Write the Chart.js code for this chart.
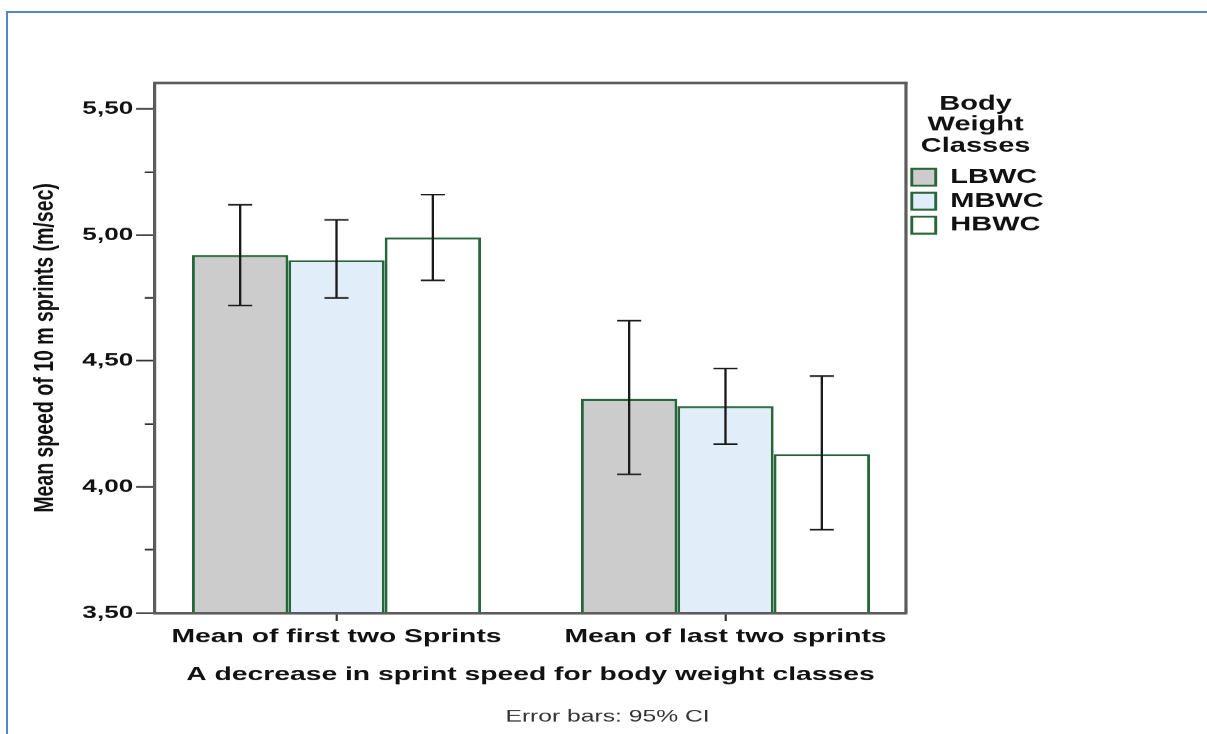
<!DOCTYPE html>
<html>
<head>
<meta charset="utf-8">
<script src="https://cdn.jsdelivr.net/npm/chart.js@4/dist/chart.umd.min.js"></script>
<style>
  html, body { margin: 0; padding: 0; background: #fff; overflow: hidden; width: 1207px; height: 734px; }
  #c { position: absolute; left: 0; top: 0; }
  #frame { position: absolute; left: 6px; top: 11px; width: 1400px; height: 900px;
           border-left: 2px solid #5585c4; border-top: 2px solid #5585c4; pointer-events: none; }
</style>
</head>
<body>
<!-- drawn on an 832px-wide canvas and shown 1207px wide (horizontally stretched output) -->
<canvas id="c" width="832" height="734" style="width:1207px;height:734px"></canvas>
<div id="frame"></div>
<script>
// Sprint speed (m/sec), means and 95% CI bounds per body weight class
const categories = ['Mean of first two Sprints', 'Mean of last two sprints'];
const seriesNames = ['LBWC', 'MBWC', 'HBWC'];

const lbwcMeans = [4.92, 4.35];
const mbwcMeans = [4.90, 4.32];
const hbwcMeans = [4.99, 4.13];

const lbwcLower = [4.72, 4.05];
const lbwcUpper = [5.12, 4.66];
const mbwcLower = [4.75, 4.17];
const mbwcUpper = [5.06, 4.47];
const hbwcLower = [4.82, 3.83];
const hbwcUpper = [5.16, 4.44];

const yTickValues = [3.50, 3.75, 4.00, 4.25, 4.50, 4.75, 5.00, 5.25, 5.50];
const yTickLabels = ['3,50', '', '4,00', '', '4,50', '', '5,00', '', '5,50'];

const means = [lbwcMeans, mbwcMeans, hbwcMeans];
const lowers = [lbwcLower, mbwcLower, hbwcLower];
const uppers = [lbwcUpper, mbwcUpper, hbwcUpper];

const FAMILY = "'Liberation Sans', Arial, sans-serif";
const fills = ['#cccccc', '#e1edf9', '#ffffff'];
const edge = '#26663a';
const axisGrey = '#5c5c5c';

// 95% CI whiskers on every bar
const ciWhiskers = {
  id: 'ciWhiskers',
  afterDatasetsDraw(chart) {
    const { ctx } = chart;
    const y = chart.scales.y;
    ctx.save();
    ctx.strokeStyle = '#1a1a1a';
    ctx.lineWidth = 1.6;
    chart.data.datasets.forEach((ds, s) => {
      chart.getDatasetMeta(s).data.forEach((bar, i) => {
        const x = bar.x;
        const yl = y.getPixelForValue(lowers[s][i]);
        const yh = y.getPixelForValue(uppers[s][i]);
        const w = 8.3;
        ctx.beginPath();
        ctx.moveTo(x, yl); ctx.lineTo(x, yh);
        ctx.moveTo(x - w, yl); ctx.lineTo(x + w, yl);
        ctx.moveTo(x - w, yh); ctx.lineTo(x + w, yh);
        ctx.stroke();
      });
    });
    ctx.restore();
  }
};

// top and right sides of the plot box
const plotFrame = {
  id: 'plotFrame',
  afterDraw(chart) {
    const { ctx, chartArea: { left, top, right, bottom } } = chart;
    ctx.save();
    ctx.strokeStyle = axisGrey;
    ctx.lineWidth = 2.5;
    ctx.beginPath(); ctx.moveTo(left - 1, top); ctx.lineTo(right + 1, top); ctx.stroke();
    ctx.lineWidth = 2.2;
    ctx.beginPath(); ctx.moveTo(right, top - 1.2); ctx.lineTo(right, bottom + 1.2); ctx.stroke();
    ctx.restore();
  }
};

Chart.defaults.font.family = FAMILY;

new Chart(document.getElementById('c'), {
  type: 'bar',
  data: {
    datasets: seriesNames.map((name, s) => ({
      label: name,
      data: means[s].map((v, i) => ({ x: i, y: v })),
      backgroundColor: fills[s],
      borderColor: edge,
      borderWidth: 2,
      borderSkipped: 'start',
      categoryPercentage: 0.743,
      barPercentage: 1.0
    }))
  },
  options: {
    responsive: false,
    devicePixelRatio: 1207 / 832,
    animation: false,
    layout: { padding: { top: 83, right: 0, bottom: 7.2, left: 5.6 } },
    scales: {
      x: {
        type: 'linear',
        offset: false,
        min: -0.4668,
        max: 1.464,
        afterBuildTicks: s => { s.ticks = categories.map((_, i) => ({ value: i })); },
        afterFit: s => { s.height = 80; },
        ticks: {
          callback: v => categories[v] ?? '',
          font: { family: FAMILY, size: 19.5, weight: 'bold' },
          color: '#111',
          padding: 4.3,
          maxRotation: 0,
          autoSkip: false
        },
        grid: { offset: false, drawOnChartArea: false, tickLength: 8, tickColor: '#333', tickWidth: 1.5, z: 1 },
        border: { color: axisGrey, width: 2.5, z: 1 },
        title: {
          display: true,
          text: 'A decrease in sprint speed for body weight classes',
          font: { family: FAMILY, size: 19.5, weight: 'bold' },
          color: '#111',
          padding: { top: 0, bottom: 6.3 }
        }
      },
      y: {
        type: 'linear',
        min: 3.5,
        max: 5.603,
        afterBuildTicks: s => { s.ticks = yTickValues.map(v => ({ value: v })); },
        afterFit: s => { s.width = 101.2; },
        ticks: {
          callback: (v, i) => yTickLabels[i],
          font: { family: FAMILY, size: 18, weight: 'bold' },
          color: '#111',
          padding: 2,
          autoSkip: false
        },
        grid: {
          drawOnChartArea: false,
          tickLength: 13,
          tickColor: '#333',
          tickWidth: 1.6,
          tickBorderDash: c => (yTickLabels[c.index] ? [] : [0, 6, 7, 100]),
          z: 1
        },
        border: { color: axisGrey, width: 2.2, z: 1 },
        title: {
          display: true,
          text: 'Mean speed of 10 m sprints (m/sec)',
          font: { family: FAMILY, size: 19.5, weight: 'bold' },
          color: '#111',
          padding: { top: 13.7, bottom: 0 }
        }
      },
      // empty margin to the right of the legend
      rightMargin: {
        type: 'linear',
        position: 'right',
        weight: 2000,
        afterFit: s => { s.width = 111.5; },
        ticks: { display: false },
        grid: { display: false, drawTicks: false },
        border: { display: false }
      }
    },
    plugins: {
      legend: {
        position: 'right',
        align: 'start',
        maxWidth: 96,
        title: {
          display: true,
          text: ['Body', 'Weight', 'Classes'],
          font: { family: FAMILY, size: 20, weight: 'bold', lineHeight: 1.05 },
          color: '#111',
          padding: { top: 11, bottom: 48 }
        },
        labels: {
          boxWidth: 16.5,
          boxHeight: 17,
          padding: 4,
          font: { family: FAMILY, size: 20, weight: 'bold' },
          color: '#111'
        }
      },
      title: {
        display: true,
        position: 'bottom',
        text: 'Error bars: 95% CI',
        font: { family: FAMILY, size: 17, weight: 'normal' },
        color: '#333',
        padding: { top: 14, bottom: 0 }
      },
      tooltip: { enabled: false }
    }
  },
  plugins: [ciWhiskers, plotFrame]
});
</script>
</body>
</html>
